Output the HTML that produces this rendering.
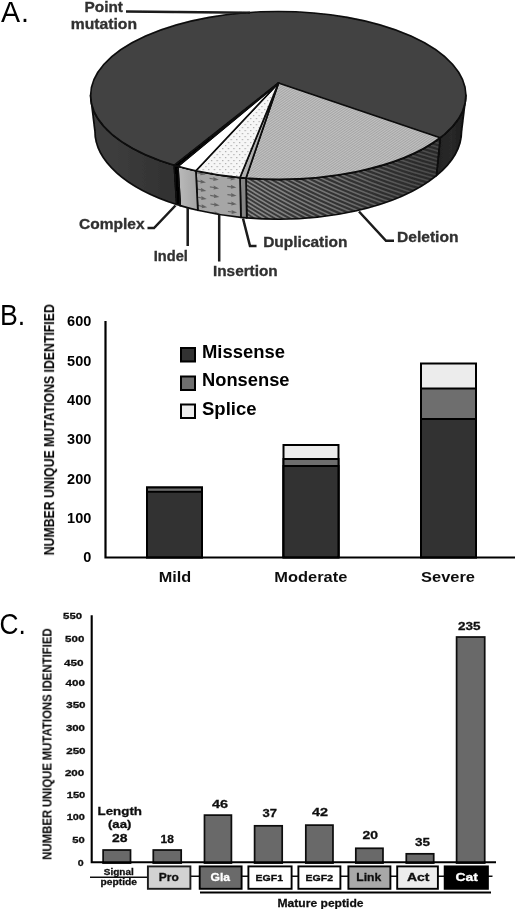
<!DOCTYPE html>
<html>
<head>
<meta charset="utf-8">
<title>Figure</title>
<style>
html,body{margin:0;padding:0;background:#fff;}
body{width:520px;height:910px;overflow:hidden;font-family:"Liberation Sans",sans-serif;}
svg{display:block;font-family:"Liberation Sans",sans-serif;}
</style>
</head>
<body>
<svg width="520" height="910" viewBox="0 0 520 910">
<rect width="520" height="910" fill="#fff"/>

<defs>
<linearGradient id="gPtL" x1="0" y1="0" x2="1" y2="0">
<stop offset="0" stop-color="#3e3e3e"/><stop offset="0.3" stop-color="#3c3c3c"/><stop offset="1" stop-color="#303030"/>
</linearGradient>
<linearGradient id="gPtR" x1="0" y1="0" x2="1" y2="0">
<stop offset="0" stop-color="#222"/><stop offset="0.5" stop-color="#292929"/><stop offset="1" stop-color="#1a1a1a"/>
</linearGradient>
<linearGradient id="gInd" x1="0" y1="0" x2="1" y2="0">
<stop offset="0" stop-color="#bababa"/><stop offset="1" stop-color="#a4a4a4"/>
</linearGradient>
<linearGradient id="gDelBg" gradientUnits="userSpaceOnUse" x1="246" y1="0" x2="441" y2="0">
<stop offset="0" stop-color="#3a3a3a"/><stop offset="1" stop-color="#2a2a2a"/>
</linearGradient>
<linearGradient id="gStripe" gradientUnits="userSpaceOnUse" x1="246" y1="0" x2="441" y2="0">
<stop offset="0" stop-color="#8a8a8a"/><stop offset="0.45" stop-color="#727272"/><stop offset="0.8" stop-color="#545454"/><stop offset="1" stop-color="#484848"/>
</linearGradient>
<pattern id="pDelTop" width="2" height="2" patternUnits="userSpaceOnUse" patternTransform="rotate(-35)">
<rect width="2" height="2" fill="#c2c2c2"/><rect width="2" height="0.9" fill="#a2a2a2"/>
</pattern>
<pattern id="pInsTop" width="5.6" height="6" patternUnits="userSpaceOnUse">
<rect width="5.6" height="6" fill="#f6f6f6"/><rect x="1" y="1" width="1.2" height="1.2" fill="#a8a8a8"/><rect x="3.8" y="4" width="1.2" height="1.2" fill="#a8a8a8"/>
</pattern>
<clipPath id="cDelSide"><path d="M246.00,178.05 A187.65,83.9 0 0 0 440.20,137.78 L436.45,175.70 A183.3,87.9 0 0 1 246.75,217.89 Z"/></clipPath><clipPath id="cInsSide"><path d="M195.90,170.79 A187.65,83.9 0 0 0 240.00,177.54 L240.89,217.35 A183.3,87.9 0 0 1 197.81,210.28 Z"/></clipPath>
<filter id="soft" x="0" y="0" width="520" height="910" filterUnits="userSpaceOnUse"><feGaussianBlur stdDeviation="0.45"/></filter>
</defs>

<g filter="url(#soft)">

<!-- ================= Panel A ================= -->
<text x="1.0" y="21.8" font-size="28.6" textLength="28" lengthAdjust="spacing">A.</text>
<g>
<path d="M90.60,95.40 A187.65,83.9 0 0 0 174.30,165.25 L176.71,204.48 A183.3,87.9 0 0 1 94.95,131.30 Z" fill="url(#gPtL)" stroke="#0a0a0a" stroke-width="1.7" stroke-linejoin="round"/>
<path d="M440.20,137.78 A187.65,83.9 0 0 0 465.90,95.40 L461.55,131.30 A183.3,87.9 0 0 1 436.45,175.70 Z" fill="url(#gPtR)" stroke="#0a0a0a" stroke-width="1.7" stroke-linejoin="round"/>
<path d="M246.00,178.05 A187.65,83.9 0 0 0 440.20,137.78 L436.45,175.70 A183.3,87.9 0 0 1 246.75,217.89 Z" fill="url(#gDelBg)" />
<g clip-path="url(#cDelSide)" fill="none" stroke="url(#gStripe)" stroke-width="1.6"><polyline points="440.4,135.8 444.7,137.1 448.5,138.2 451.8,139.2 454.6,140.0 456.8,140.7 458.5,141.3 459.7,141.7 460.4,142.1"/><polyline points="436.5,138.7 441.2,140.1 445.3,141.3 449.0,142.4 452.1,143.3 454.7,144.0 456.8,144.7 458.4,145.2 459.5,145.6"/><polyline points="432.4,141.5 437.4,143.0 441.9,144.3 445.9,145.5 449.4,146.5 452.4,147.3 454.9,148.0 456.9,148.6 458.3,149.1"/><polyline points="427.9,144.2 433.3,145.8 438.1,147.2 442.5,148.5 446.4,149.6 449.8,150.5 452.6,151.3 455.0,152.0 456.8,152.5"/><polyline points="423.3,146.8 428.9,148.6 434.2,150.1 438.9,151.5 443.1,152.7 446.9,153.7 450.1,154.6 452.9,155.3 455.1,155.9"/><polyline points="418.4,149.4 424.4,151.2 429.9,152.9 435.0,154.4 439.6,155.7 443.7,156.8 447.3,157.8 450.4,158.6 453.0,159.3"/><polyline points="413.3,151.8 419.6,153.8 425.5,155.6 430.9,157.2 435.8,158.7 440.3,159.9 444.3,161.0 447.7,161.9 450.7,162.7"/><polyline points="407.9,154.2 414.6,156.3 420.7,158.3 426.5,160.0 431.8,161.5 436.6,162.9 440.9,164.1 444.8,165.1 448.1,166.0"/><polyline points="402.4,156.4 409.3,158.7 415.8,160.8 421.9,162.7 427.5,164.3 432.7,165.8 437.3,167.1 441.5,168.3 445.2,169.2"/><polyline points="396.7,158.6 403.9,161.0 410.7,163.3 417.0,165.3 423.0,167.1 428.5,168.7 433.5,170.1 438.0,171.3 442.1,172.4"/><polyline points="390.7,160.6 398.2,163.2 405.3,165.6 412.0,167.8 418.2,169.7 424.0,171.4 429.4,173.0 434.3,174.3 438.7,175.5"/><polyline points="384.6,162.6 392.4,165.3 399.7,167.9 406.7,170.2 413.2,172.3 419.4,174.1 425.1,175.8 430.3,177.3 435.1,178.6"/><polyline points="378.3,164.4 386.3,167.3 394.0,170.0 401.2,172.5 408.0,174.7 414.5,176.7 420.5,178.5 426.0,180.1 431.2,181.6"/><polyline points="371.9,166.2 380.1,169.2 388.0,172.1 395.5,174.7 402.6,177.1 409.4,179.2 415.7,181.2 421.6,182.9 427.0,184.5"/><polyline points="365.3,167.8 373.8,171.0 381.9,174.0 389.6,176.8 397.0,179.3 404.1,181.6 410.7,183.7 416.9,185.6 422.6,187.3"/><polyline points="358.6,169.3 367.2,172.7 375.6,175.8 383.6,178.8 391.3,181.5 398.5,183.9 405.4,186.2 411.9,188.2 418.0,190.0"/><polyline points="351.7,170.6 360.6,174.2 369.1,177.5 377.4,180.6 385.3,183.5 392.8,186.1 400.0,188.5 406.8,190.7 413.2,192.7"/><polyline points="344.8,171.9 353.8,175.6 362.5,179.1 371.0,182.4 379.1,185.4 386.9,188.2 394.4,190.8 401.4,193.1 408.1,195.2"/><polyline points="337.7,173.0 346.9,176.9 355.8,180.6 364.5,184.0 372.8,187.2 380.9,190.2 388.6,192.9 395.9,195.4 402.8,197.7"/><polyline points="330.5,174.0 339.9,178.1 349.0,182.0 357.8,185.6 366.4,188.9 374.6,192.1 382.6,194.9 390.2,197.6 397.4,200.0"/><polyline points="323.2,174.9 332.7,179.1 342.0,183.2 351.0,187.0 359.8,190.5 368.3,193.8 376.4,196.9 384.2,199.7 391.7,202.2"/><polyline points="315.9,175.6 325.5,180.1 334.9,184.3 344.1,188.2 353.1,192.0 361.7,195.4 370.1,198.6 378.2,201.6 385.9,204.4"/><polyline points="308.5,176.2 318.2,180.8 327.8,185.2 337.1,189.4 346.2,193.3 355.1,196.9 363.6,200.3 371.9,203.5 379.9,206.4"/><polyline points="301.1,176.7 310.9,181.5 320.5,186.1 330.0,190.4 339.3,194.5 348.3,198.3 357.0,201.9 365.5,205.2 373.7,208.3"/><polyline points="293.6,177.0 303.5,182.0 313.2,186.8 322.8,191.3 332.2,195.5 341.4,199.5 350.3,203.3 359.0,206.8 367.4,210.1"/><polyline points="286.1,177.2 296.0,182.4 305.9,187.3 315.5,192.0 325.1,196.5 334.4,200.7 343.5,204.6 352.3,208.3 360.9,211.7"/><polyline points="278.6,177.3 288.6,182.7 298.5,187.8 308.2,192.6 317.8,197.3 327.3,201.6 336.5,205.8 345.5,209.6 354.3,213.2"/><polyline points="271.1,177.2 281.1,182.8 291.0,188.1 300.9,193.1 310.6,197.9 320.1,202.5 329.5,206.8 338.7,210.8 347.6,214.6"/><polyline points="263.6,177.0 273.6,182.8 283.6,188.2 293.5,193.5 303.2,198.5 312.9,203.2 322.4,207.7 331.7,211.9 340.8,215.9"/><polyline points="256.1,176.7 266.1,182.6 276.1,188.3 286.0,193.7 295.9,198.9 305.6,203.8 315.2,208.5 324.6,212.9 333.8,217.0"/><polyline points="248.7,176.3 258.7,182.3 268.6,188.2 278.6,193.8 288.5,199.1 298.3,204.2 307.9,209.1 317.5,213.7 326.8,218.0"/><polyline points="241.3,175.7 251.2,181.9 261.2,187.9 271.1,193.7 281.1,199.2 290.9,204.5 300.6,209.6 310.2,214.4 319.7,218.9"/><polyline points="233.9,174.9 243.8,181.4 253.8,187.5 263.7,193.5 273.6,199.2 283.5,204.7 293.3,209.9 303.0,214.9 312.5,219.6"/><polyline points="226.7,174.1 236.5,180.7 246.4,187.0 256.3,193.2 266.2,199.1 276.1,204.7 285.9,210.1 295.7,215.3 305.3,220.2"/><polyline points="219.5,173.1 229.2,179.9 239.1,186.4 248.9,192.7 258.8,198.8 268.7,204.6 278.6,210.2 288.4,215.6 298.1,220.7"/><polyline points="212.4,172.0 222.0,178.9 231.8,185.6 241.6,192.1 251.5,198.4 261.3,204.4 271.2,210.2 281.0,215.7 290.8,221.0"/><polyline points="205.4,170.8 214.9,177.8 224.6,184.7 234.3,191.4 244.2,197.8 254.0,204.0 263.8,210.0 273.7,215.7 283.4,221.2"/><polyline points="198.5,169.4 208.0,176.6 217.5,183.7 227.2,190.5 236.9,197.1 246.7,203.5 256.5,209.6 266.3,215.5 276.1,221.2"/><polyline points="191.8,167.9 201.1,175.3 210.5,182.5 220.0,189.5 229.7,196.3 239.4,202.8 249.2,209.1 259.0,215.2 268.8,221.1"/><polyline points="185.2,166.3 194.3,173.9 203.6,181.2 213.0,188.3 222.6,195.3 232.2,202.0 242.0,208.5 251.7,214.8 261.5,220.8"/><polyline points="178.8,164.6 187.7,172.3 196.8,179.8 206.1,187.1 215.5,194.2 225.1,201.1 234.8,207.8 244.5,214.2 254.2,220.4"/><polyline points="172.5,162.8 181.2,170.6 190.2,178.2 199.3,185.7 208.6,193.0 218.1,200.0 227.6,206.9 237.3,213.5 247.0,219.9"/><polyline points="166.3,160.8 174.9,168.8 183.6,176.6 192.6,184.2 201.8,191.6 211.1,198.8 220.6,205.9 230.2,212.7 239.8,219.2"/></g>
<path d="M246.00,178.05 A187.65,83.9 0 0 0 440.20,137.78 L436.45,175.70 A183.3,87.9 0 0 1 246.75,217.89 Z" fill="none" stroke="#0a0a0a" stroke-width="1.7" stroke-linejoin="round"/>
<path d="M240.00,177.54 A187.65,83.9 0 0 0 246.00,178.05 L246.75,217.89 A183.3,87.9 0 0 1 240.89,217.35 Z" fill="#858585" stroke="#0a0a0a" stroke-width="1.7" stroke-linejoin="round"/>
<path d="M195.90,170.79 A187.65,83.9 0 0 0 240.00,177.54 L240.89,217.35 A183.3,87.9 0 0 1 197.81,210.28 Z" fill="#a6a6a6" />
<g clip-path="url(#cInsSide)" fill="#646464"><path d="M196.5,172.0 L200.5,172.7 L200.1,171.3 L205.7,174.4 L200.1,175.3 L200.5,173.9 L196.5,173.2 Z"/><path d="M196.8,180.2 L200.8,181.0 L200.4,179.5 L206.0,182.6 L200.4,183.5 L200.8,182.2 L196.8,181.4 Z"/><path d="M197.2,188.4 L201.2,189.2 L200.8,187.7 L206.4,190.9 L200.8,191.7 L201.2,190.4 L197.2,189.6 Z"/><path d="M197.6,196.6 L201.6,197.4 L201.2,195.9 L206.8,199.1 L201.2,199.9 L201.6,198.6 L197.6,197.8 Z"/><path d="M198.0,204.8 L202.0,205.7 L201.6,204.2 L207.2,207.3 L201.6,208.2 L202.0,206.9 L198.0,206.0 Z"/><path d="M209.6,177.7 L213.6,178.4 L213.2,176.9 L218.8,179.8 L213.2,180.9 L213.6,179.6 L209.6,178.9 Z"/><path d="M209.9,186.3 L213.9,186.9 L213.5,185.5 L219.1,188.4 L213.5,189.5 L213.9,188.1 L209.9,187.5 Z"/><path d="M210.2,194.8 L214.2,195.5 L213.8,194.0 L219.4,197.0 L213.8,198.0 L214.2,196.7 L210.2,196.0 Z"/><path d="M210.5,203.4 L214.5,204.1 L214.1,202.6 L219.7,205.5 L214.1,206.6 L214.5,205.3 L210.5,204.6 Z"/><path d="M210.9,212.0 L214.9,212.6 L214.5,211.2 L220.1,214.1 L214.5,215.2 L214.9,213.8 L210.9,213.2 Z"/><path d="M226.9,177.4 L230.9,177.8 L230.5,176.4 L236.1,179.0 L230.5,180.4 L230.9,179.0 L226.9,178.6 Z"/><path d="M227.2,185.8 L231.2,186.2 L230.8,184.8 L236.4,187.4 L230.8,188.8 L231.2,187.4 L227.2,187.0 Z"/><path d="M227.4,194.1 L231.4,194.6 L231.0,193.1 L236.6,195.8 L231.0,197.1 L231.4,195.8 L227.4,195.3 Z"/><path d="M227.6,202.5 L231.6,203.0 L231.2,201.5 L236.8,204.2 L231.2,205.5 L231.6,204.2 L227.6,203.7 Z"/><path d="M227.9,210.9 L231.9,211.4 L231.5,209.9 L237.1,212.6 L231.5,213.9 L231.9,212.6 L227.9,212.1 Z"/></g>
<path d="M195.90,170.79 A187.65,83.9 0 0 0 240.00,177.54 L240.89,217.35 A183.3,87.9 0 0 1 197.81,210.28 Z" fill="none" stroke="#0a0a0a" stroke-width="1.7" stroke-linejoin="round"/>
<path d="M177.90,166.30 A187.65,83.9 0 0 0 195.90,170.79 L197.81,210.28 A183.3,87.9 0 0 1 180.23,205.58 Z" fill="url(#gInd)" stroke="#0a0a0a" stroke-width="1.7" stroke-linejoin="round"/>
<path d="M174.30,165.25 A187.65,83.9 0 0 0 177.90,166.30 L180.23,205.58 A183.3,87.9 0 0 1 176.71,204.48 Z" fill="#000" stroke="#0a0a0a" stroke-width="1.7" stroke-linejoin="round"/>
<ellipse cx="278.25" cy="95.4" rx="187.65" ry="83.9" fill="#424242" stroke="#0a0a0a" stroke-width="1.7" stroke-linejoin="round"/>
<path d="M278.5,83.0 L246.00,178.05 A187.65,83.9 0 0 0 440.20,137.78 Z" fill="url(#pDelTop)" stroke="#0a0a0a" stroke-width="1.7" stroke-linejoin="round"/>
<path d="M278.5,83.0 L240.00,177.54 A187.65,83.9 0 0 0 246.00,178.05 Z" fill="#b0b0b0" stroke="#0a0a0a" stroke-width="1.7" stroke-linejoin="round"/>
<path d="M278.5,83.0 L195.90,170.79 A187.65,83.9 0 0 0 240.00,177.54 Z" fill="url(#pInsTop)" stroke="#0a0a0a" stroke-width="1.7" stroke-linejoin="round"/>
<path d="M278.5,83.0 L177.90,166.30 A187.65,83.9 0 0 0 195.90,170.79 Z" fill="#ffffff" stroke="#0a0a0a" stroke-width="1.7" stroke-linejoin="round"/>
<path d="M278.5,83.0 L174.30,165.25 A187.65,83.9 0 0 0 177.90,166.30 Z" fill="#000" stroke="#0a0a0a" stroke-width="1.7" stroke-linejoin="round"/>
</g>
<g font-size="14">
<text x="84.6" y="12.2" textLength="38.4" font-weight="700" fill="#303030" stroke="#303030" stroke-width="0.3" lengthAdjust="spacingAndGlyphs">Point</text>
<text x="70.8" y="29.2" textLength="66.2" font-weight="700" fill="#303030" stroke="#303030" stroke-width="0.3" lengthAdjust="spacingAndGlyphs">mutation</text>
<text x="79" y="228.8" textLength="65.6" font-weight="700" fill="#303030" stroke="#303030" stroke-width="0.3" lengthAdjust="spacingAndGlyphs">Complex</text>
<text x="153.8" y="261" textLength="34" font-weight="700" fill="#303030" stroke="#303030" stroke-width="0.3" lengthAdjust="spacingAndGlyphs">Indel</text>
<text x="213" y="276.3" textLength="64.7" font-weight="700" fill="#303030" stroke="#303030" stroke-width="0.3" lengthAdjust="spacingAndGlyphs">Insertion</text>
<text x="263.2" y="246.8" textLength="84.3" font-weight="700" fill="#303030" stroke="#303030" stroke-width="0.3" lengthAdjust="spacingAndGlyphs">Duplication</text>
<text x="397" y="241.7" textLength="61.5" font-weight="700" fill="#303030" stroke="#303030" stroke-width="0.3" lengthAdjust="spacingAndGlyphs">Deletion</text>
</g>
<path d="M126,11.6 L250,12.8" fill="none" stroke="#1a1a1a" stroke-width="2.5" stroke-linejoin="miter" stroke-width="1.8"/>
<path d="M147.5,228 L154,228 L175.5,205.5" fill="none" stroke="#1a1a1a" stroke-width="2.5" stroke-linejoin="miter"/>
<path d="M187.7,208 L187.7,246" fill="none" stroke="#1a1a1a" stroke-width="2.5" stroke-linejoin="miter"/>
<path d="M219.2,214.5 L219.2,261.5" fill="none" stroke="#1a1a1a" stroke-width="2.5" stroke-linejoin="miter"/>
<path d="M243,218.5 L250,246 L256.5,246" fill="none" stroke="#1a1a1a" stroke-width="2.5" stroke-linejoin="miter"/>
<path d="M359,211.5 L386,240.8 L394,240.8" fill="none" stroke="#1a1a1a" stroke-width="2.5" stroke-linejoin="miter"/>


<!-- ================= Panel B ================= -->
<text x="0" y="325.4" font-size="29" textLength="25.2" lengthAdjust="spacingAndGlyphs">B.</text>
<text transform="translate(54.1,555.3) rotate(-90)" font-size="15" font-weight="700" textLength="251" lengthAdjust="spacingAndGlyphs">NUMBER UNIQUE MUTATIONS IDENTIFIED</text>
<g font-size="14.5" font-weight="700">
<text x="91.3" y="562.2" text-anchor="end">0</text>
<text x="91.3" y="522.9" text-anchor="end">100</text>
<text x="91.3" y="483.6" text-anchor="end">200</text>
<text x="91.3" y="444.3" text-anchor="end">300</text>
<text x="91.3" y="405.0" text-anchor="end">400</text>
<text x="91.3" y="365.7" text-anchor="end">500</text>
<text x="91.3" y="326.4" text-anchor="end">600</text>
</g>
<rect x="147" y="487.5" width="55" height="69.8" fill="#ececec" stroke="#000" stroke-width="2"/>
<rect x="147" y="487.5" width="55" height="69.8" fill="#6e6e6e" stroke="#000" stroke-width="2"/>
<rect x="147" y="491.8" width="55" height="65.5" fill="#333333" stroke="#000" stroke-width="2"/>
<rect x="283.5" y="445" width="55" height="112.3" fill="#ececec" stroke="#000" stroke-width="2"/>
<rect x="283.5" y="459" width="55" height="98.3" fill="#6e6e6e" stroke="#000" stroke-width="2"/>
<rect x="283.5" y="466" width="55" height="91.3" fill="#333333" stroke="#000" stroke-width="2"/>
<rect x="421" y="363.5" width="55" height="193.8" fill="#ececec" stroke="#000" stroke-width="2"/>
<rect x="421" y="388.5" width="55" height="168.8" fill="#6e6e6e" stroke="#000" stroke-width="2"/>
<rect x="421" y="419" width="55" height="138.3" fill="#333333" stroke="#000" stroke-width="2"/>
<path d="M105.5,321 L105.5,557.5 L515,557.5" fill="none" stroke="#000" stroke-width="2.2"/>
<g font-size="15" font-weight="700" text-anchor="middle" fill="#111">
<text x="175" y="582" textLength="32.5" lengthAdjust="spacingAndGlyphs">Mild</text>
<text x="310.8" y="582" textLength="73" lengthAdjust="spacingAndGlyphs">Moderate</text>
<text x="448" y="582" textLength="54" lengthAdjust="spacingAndGlyphs">Severe</text>
</g>
<rect x="181" y="348" width="14" height="13.5" fill="#333" stroke="#000" stroke-width="2"/>
<rect x="181" y="376.5" width="14" height="13.5" fill="#6e6e6e" stroke="#000" stroke-width="2"/>
<rect x="181" y="404.5" width="14" height="13.5" fill="#ececec" stroke="#000" stroke-width="2"/>
<g font-size="18.5" font-weight="700">
<text x="202" y="358.3" textLength="83" lengthAdjust="spacingAndGlyphs">Missense</text>
<text x="202" y="386.3" textLength="87.5" lengthAdjust="spacingAndGlyphs">Nonsense</text>
<text x="202" y="414.6">Splice</text>
</g>


<!-- ================= Panel C ================= -->
<text x="-0.4" y="633.6" font-size="29.4" textLength="26.3" lengthAdjust="spacingAndGlyphs">C.</text>
<text transform="translate(51.5,859.8) rotate(-90)" font-size="13.4" font-weight="700" word-spacing="-0.6" textLength="231.5" lengthAdjust="spacingAndGlyphs">NUMBER UNIQUE MUTATIONS IDENTIFIED</text>
<g font-weight="700">
<text x="63.1" y="619.0" font-size="9.2" textLength="19.0" lengthAdjust="spacingAndGlyphs" fill="#111" stroke="#111" stroke-width="0.3" >550</text>
<text x="65.1" y="642.1" font-size="9.2" textLength="19.2" lengthAdjust="spacingAndGlyphs" fill="#111" stroke="#111" stroke-width="0.3" >500</text>
<text x="64.0" y="666.0" font-size="9.2" textLength="19.6" lengthAdjust="spacingAndGlyphs" fill="#111" stroke="#111" stroke-width="0.3" >450</text>
<text x="65.6" y="685.7" font-size="9.2" textLength="19.4" lengthAdjust="spacingAndGlyphs" fill="#111" stroke="#111" stroke-width="0.3" >400</text>
<text x="66.2" y="708.4" font-size="9.2" textLength="19.4" lengthAdjust="spacingAndGlyphs" fill="#111" stroke="#111" stroke-width="0.3" >350</text>
<text x="65.9" y="731.0" font-size="9.2" textLength="19.1" lengthAdjust="spacingAndGlyphs" fill="#111" stroke="#111" stroke-width="0.3" >300</text>
<text x="66.2" y="754.0" font-size="9.2" textLength="19.4" lengthAdjust="spacingAndGlyphs" fill="#111" stroke="#111" stroke-width="0.3" >250</text>
<text x="64.9" y="775.5" font-size="9.2" textLength="19.4" lengthAdjust="spacingAndGlyphs" fill="#111" stroke="#111" stroke-width="0.3" >200</text>
<text x="66.7" y="798.4" font-size="9.2" textLength="18.6" lengthAdjust="spacingAndGlyphs" fill="#111" stroke="#111" stroke-width="0.3" >150</text>
<text x="66.7" y="820.1" font-size="9.2" textLength="18.3" lengthAdjust="spacingAndGlyphs" fill="#111" stroke="#111" stroke-width="0.3" >100</text>
<text x="72.2" y="843.2" font-size="9.2" textLength="12.5" lengthAdjust="spacingAndGlyphs" fill="#111" stroke="#111" stroke-width="0.3" >50</text>
<text x="77.7" y="865.6" font-size="9.2" textLength="5.9" lengthAdjust="spacingAndGlyphs" fill="#111" stroke="#111" stroke-width="0.3" >0</text>
</g>
<rect x="103.1" y="850.0" width="27.4" height="13.1" fill="#696969" stroke="#0c0c0c" stroke-width="1.7"/>
<rect x="153.3" y="850.0" width="27.9" height="13.1" fill="#696969" stroke="#0c0c0c" stroke-width="1.7"/>
<rect x="204.5" y="815.1" width="26.9" height="48.0" fill="#696969" stroke="#0c0c0c" stroke-width="1.7"/>
<rect x="254.6" y="825.8" width="27.6" height="37.3" fill="#696969" stroke="#0c0c0c" stroke-width="1.7"/>
<rect x="305.8" y="825.1" width="27.2" height="38.0" fill="#696969" stroke="#0c0c0c" stroke-width="1.7"/>
<rect x="355.8" y="848.3" width="27.2" height="14.8" fill="#696969" stroke="#0c0c0c" stroke-width="1.7"/>
<rect x="406.3" y="853.8" width="27.4" height="9.3" fill="#696969" stroke="#0c0c0c" stroke-width="1.7"/>
<rect x="456.6" y="637.0" width="28.1" height="226.1" fill="#696969" stroke="#0c0c0c" stroke-width="1.7"/>
<path d="M91.7,615.3 L91.7,862.2 L496,862.2" fill="none" stroke="#000" stroke-width="2.1"/>
<g font-weight="700">
<text x="112" y="842" font-size="11.5" textLength="15.5" lengthAdjust="spacingAndGlyphs" fill="#111" stroke="#111" stroke-width="0.3" >28</text>
<text x="160.5" y="843" font-size="11.5" textLength="13.3" lengthAdjust="spacingAndGlyphs" fill="#111" stroke="#111" stroke-width="0.3" >18</text>
<text x="212" y="807.5" font-size="11.5" textLength="16" lengthAdjust="spacingAndGlyphs" fill="#111" stroke="#111" stroke-width="0.3" >46</text>
<text x="262.5" y="817" font-size="11.5" textLength="14.5" lengthAdjust="spacingAndGlyphs" fill="#111" stroke="#111" stroke-width="0.3" >37</text>
<text x="312" y="815.8" font-size="11.5" textLength="16" lengthAdjust="spacingAndGlyphs" fill="#111" stroke="#111" stroke-width="0.3" >42</text>
<text x="362.5" y="839.3" font-size="11.5" textLength="15.5" lengthAdjust="spacingAndGlyphs" fill="#111" stroke="#111" stroke-width="0.3" >20</text>
<text x="415" y="845.5" font-size="11.5" textLength="15" lengthAdjust="spacingAndGlyphs" fill="#111" stroke="#111" stroke-width="0.3" >35</text>
<text x="458" y="629.5" font-size="11.5" textLength="22.5" lengthAdjust="spacingAndGlyphs" fill="#111" stroke="#111" stroke-width="0.3" >235</text>
<text x="97.5" y="815" font-size="11.5" textLength="44.5" lengthAdjust="spacingAndGlyphs" fill="#111" stroke="#111" stroke-width="0.3" >Length</text>
<text x="108" y="828.3" font-size="11.5" textLength="23.3" lengthAdjust="spacingAndGlyphs" fill="#111" stroke="#111" stroke-width="0.3" >(aa)</text>
</g>
<path d="M90,877.2 L147,877.2 M191,876.3 L492.5,876.3" stroke="#111" stroke-width="1.6" fill="none"/>
<g font-weight="700">
<rect x="147.9" y="866.4" width="42.5" height="22.4" fill="#d2d2d2" stroke="#1c1c1c" stroke-width="1.9"/>
<text x="158.8" y="881.3" font-size="11" textLength="20.0" lengthAdjust="spacingAndGlyphs" fill="#111" stroke="#111" stroke-width="0.3" >Pro</text>
<rect x="199.7" y="866.4" width="41.9" height="22.4" fill="#6a6a6a" stroke="#000" stroke-width="1.9"/>
<text x="210.5" y="881.3" font-size="11" textLength="19.5" lengthAdjust="spacingAndGlyphs" fill="#fff" stroke="#fff" stroke-width="0.3" >Gla</text>
<rect x="248.4" y="866.4" width="43.2" height="22.4" fill="#fff" stroke="#000" stroke-width="1.9"/>
<text x="255.5" y="881.3" font-size="8.6" textLength="27.5" lengthAdjust="spacingAndGlyphs" fill="#111" stroke="#111" stroke-width="0.3" >EGF1</text>
<rect x="298.4" y="866.4" width="42.0" height="22.4" fill="#fff" stroke="#000" stroke-width="1.9"/>
<text x="305.5" y="881.3" font-size="8.6" textLength="27.5" lengthAdjust="spacingAndGlyphs" fill="#111" stroke="#111" stroke-width="0.3" >EGF2</text>
<rect x="348.4" y="866.4" width="42.0" height="22.4" fill="#a8a8a8" stroke="#000" stroke-width="1.9"/>
<text x="356.3" y="881.3" font-size="11" textLength="25.0" lengthAdjust="spacingAndGlyphs" fill="#111" stroke="#111" stroke-width="0.3" >Link</text>
<rect x="397.2" y="866.4" width="40.7" height="22.4" fill="#ececec" stroke="#000" stroke-width="1.9"/>
<text x="407" y="881.3" font-size="11" textLength="22.5" lengthAdjust="spacingAndGlyphs" fill="#111" stroke="#111" stroke-width="0.3" >Act</text>
<rect x="444.7" y="866.4" width="43.2" height="22.4" fill="#000" stroke="#000" stroke-width="1.9"/>
<text x="455.5" y="881.3" font-size="11" textLength="22.5" lengthAdjust="spacingAndGlyphs" fill="#fff" stroke="#fff" stroke-width="0.3" >Cat</text>
<text x="103.8" y="875" font-size="9" textLength="30" lengthAdjust="spacingAndGlyphs" fill="#111" stroke="#111" stroke-width="0.3" >Signal</text>
<text x="100.5" y="884.6" font-size="9" textLength="36.5" lengthAdjust="spacingAndGlyphs" fill="#111" stroke="#111" stroke-width="0.3" >peptide</text>
</g>
<path d="M200,892.5 L491,892.5" stroke="#000" stroke-width="1.9"/>
<text x="277.5" y="906.6" font-size="11.5" textLength="86" lengthAdjust="spacingAndGlyphs" fill="#111" stroke="#111" stroke-width="0.3" font-weight="700">Mature peptide</text>

</g>
</svg>
</body>
</html>
